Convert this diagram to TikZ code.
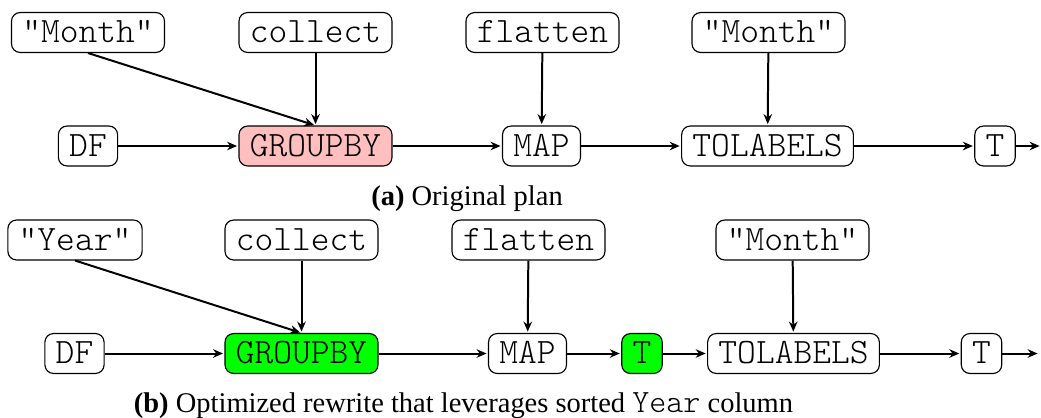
\documentclass[tikz,border=0pt]{standalone}
\usepackage{fontspec}
\setmainfont{Liberation Serif}
\setmonofont{Latin Modern Mono Light}[Scale=1.14]
\usepackage{tikz}
\usetikzlibrary{arrows.meta}
\definecolor{slowred}{RGB}{255,191,191}
\definecolor{fastgreen}{RGB}{0,255,0}
\tikzset{
    opnode/.style={draw=black, line width=0.4pt, rounded corners=3pt, inner xsep=3.8pt, inner ysep=0pt,
        minimum height=14pt, text height=7.2pt, text depth=0pt, font={\fontsize{11}{13}\selectfont\ttfamily}},
    flow/.style={-{Stealth[length=3.5pt, width=3pt]}, line width=0.7pt, shorten >=0.5pt},
    captext/.style={anchor=base, inner sep=0pt, font={\fontsize{10}{12}\selectfont}}
}

\begin{document}
\begin{tikzpicture}[x=0.351pt, y=-0.351pt]
        \useasboundingbox (0,0) rectangle (1041,417);
        \node[opnode] (amonth) at (88, 32.5) {"Month"};
        \node[opnode] (acollect) at (315.5, 32.5) {collect};
        \node[opnode] (aflatten) at (542.5, 32.5) {flatten};
        \node[opnode] (amonthb) at (768.5, 32.5) {"Month"};
        \node[opnode] (adf) at (88, 146) {DF};
        \node[opnode, fill=slowred] (agroupby) at (315.5, 146) {GROUPBY};
        \node[opnode] (amap) at (541.5, 146) {MAP};
        \node[opnode] (atolabels) at (767.5, 146) {TOLABELS};
        \node[opnode] (at) at (995, 146) {T};
        \coordinate (aend) at (1041, 146);
        \draw[flow] (amonth.south) -- (agroupby.north);
        \draw[flow] (acollect) -- (agroupby);
        \draw[flow] (aflatten) -- (amap);
        \draw[flow] (amonthb) -- (atolabels);
        \draw[flow] (adf) -- (agroupby);
        \draw[flow] (agroupby) -- (amap);
        \draw[flow] (amap) -- (atolabels);
        \draw[flow] (atolabels) -- (at);
        \draw[flow] (at) -- (aend);
        \node[captext] (acap) at (467, 205) {\textbf{(a)} Original plan};

        \node[opnode] (byear) at (75, 240) {"Year"};
        \node[opnode] (bcollect) at (301.5, 240) {collect};
        \node[opnode] (bflatten) at (528.5, 240) {flatten};
        \node[opnode] (bmonth) at (792.5, 240) {"Month"};
        \node[opnode] (bdf) at (74.5, 353.5) {DF};
        \node[opnode, fill=fastgreen] (bgroupby) at (301.5, 353.5) {GROUPBY};
        \node[opnode] (bmap) at (527.5, 353.5) {MAP};
        \node[opnode, fill=fastgreen] (bsort) at (642, 353.5) {T};
        \node[opnode] (btolabels) at (793.5, 353.5) {TOLABELS};
        \node[opnode] (bt) at (981.5, 353.5) {T};
        \coordinate (bend) at (1039, 353.5);
        \draw[flow] (byear.south) -- (bgroupby.north);
        \draw[flow] (bcollect) -- (bgroupby);
        \draw[flow] (bflatten) -- (bmap);
        \draw[flow] (bmonth) -- (btolabels);
        \draw[flow] (bdf) -- (bgroupby);
        \draw[flow] (bgroupby) -- (bmap);
        \draw[flow] (bmap) -- (bsort);
        \draw[flow] (bsort) -- (btolabels);
        \draw[flow] (btolabels) -- (bt);
        \draw[flow] (bt) -- (bend);
        \node[captext] (bcap) at (463.5, 412) {\textbf{(b)} Optimized rewrite that leverages sorted \texttt{Year} column};
    \end{tikzpicture}
\end{document}
